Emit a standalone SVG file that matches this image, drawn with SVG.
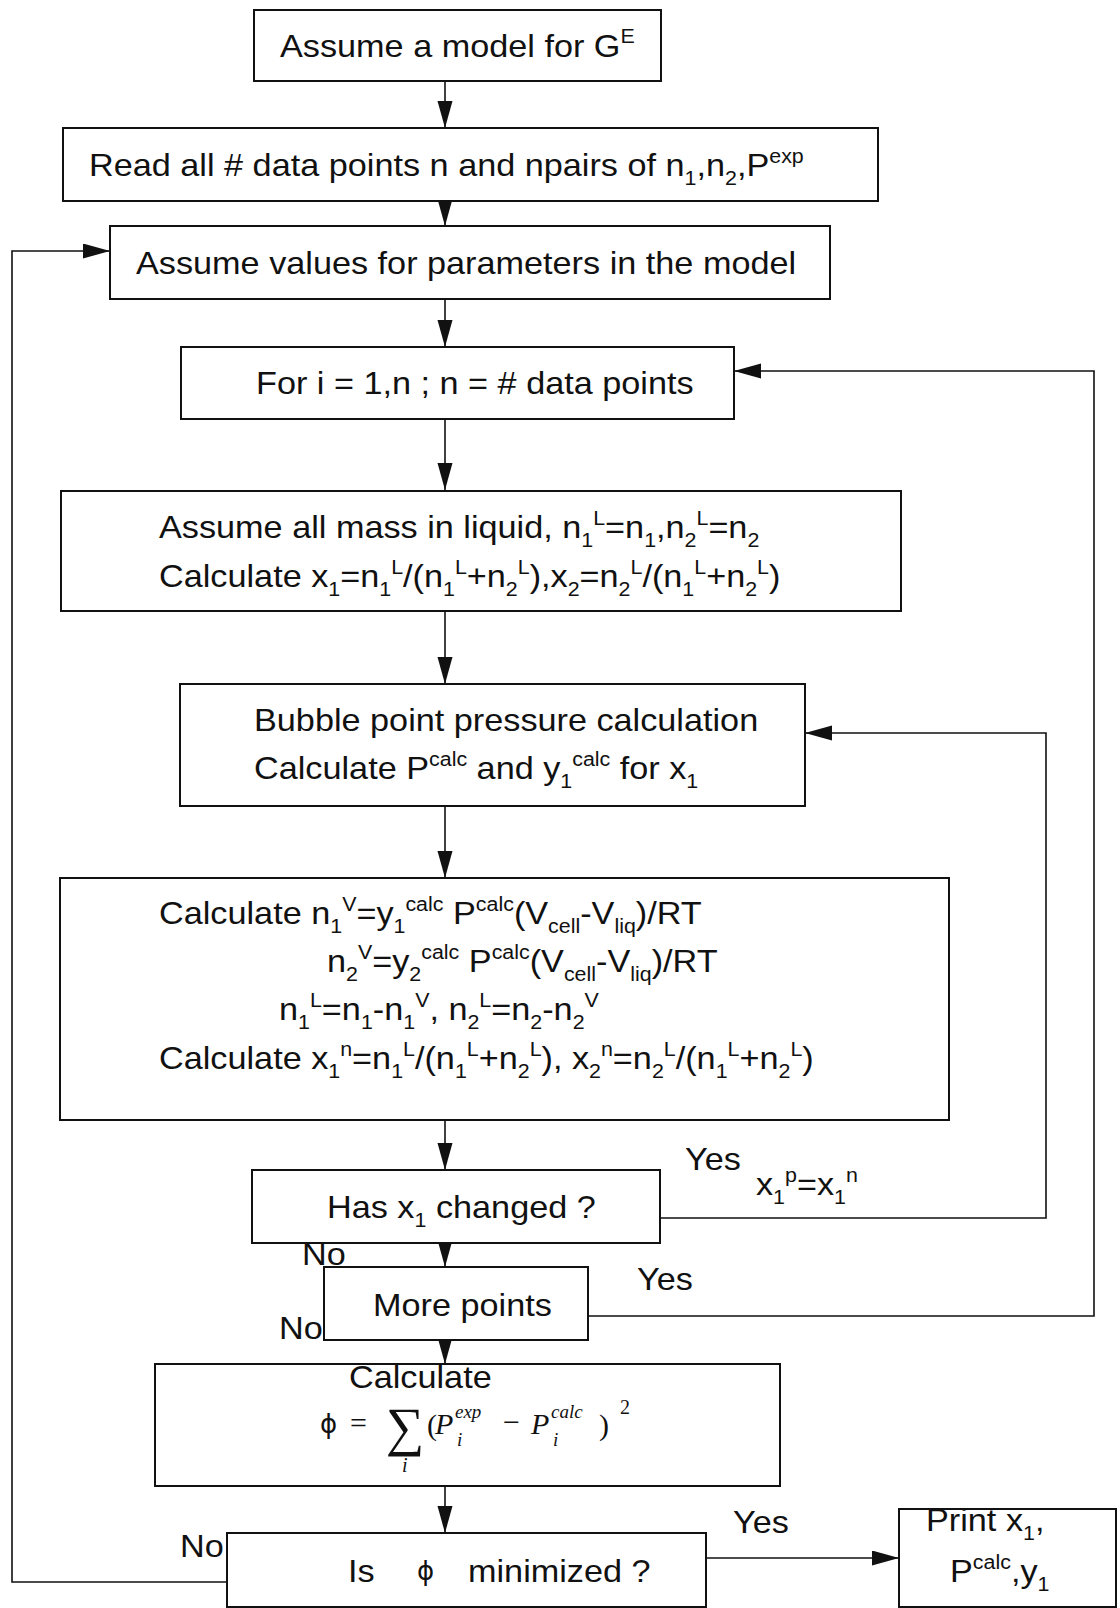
<svg xmlns="http://www.w3.org/2000/svg" width="1120" height="1608" viewBox="0 0 1120 1608">
<style>
.box{fill:#fff;stroke:#111;stroke-width:2}
.ln{fill:none;stroke:#111;stroke-width:1.6}
text{font-family:"Liberation Sans",Arial,sans-serif;font-size:32px;fill:#111}
.s{font-size:20px}
.m{font-family:"Liberation Serif","Times New Roman",serif;font-style:italic}
.r{font-family:"Liberation Serif","Times New Roman",serif}
</style>
<defs>
<marker id="ah" markerUnits="userSpaceOnUse" markerWidth="28" markerHeight="16" refX="27" refY="7.5" orient="auto">
<path d="M0,0 L27,7.5 L0,15 z" fill="#111"/>
</marker>
</defs>
<rect width="1120" height="1608" fill="#fff"/>
<g id="connectors">
<path class="ln" d="M445,81 L445,128" marker-end="url(#ah)"/>
<path class="ln" d="M445,201 L445,226" marker-end="url(#ah)"/>
<path class="ln" d="M445,299 L445,347" marker-end="url(#ah)"/>
<path class="ln" d="M445,419 L445,490" marker-end="url(#ah)"/>
<path class="ln" d="M445,611 L445,684" marker-end="url(#ah)"/>
<path class="ln" d="M445,806 L445,878" marker-end="url(#ah)"/>
<path class="ln" d="M445,1120 L445,1170" marker-end="url(#ah)"/>
<path class="ln" d="M445,1243 L445,1267" marker-end="url(#ah)"/>
<path class="ln" d="M445,1340 L445,1364" marker-end="url(#ah)"/>
<path class="ln" d="M445,1486 L445,1533" marker-end="url(#ah)"/>
<path class="ln" d="M706,1558 L899,1558" marker-end="url(#ah)"/>
<path class="ln" d="M660,1218 L1046,1218 L1046,733 L805,733" marker-end="url(#ah)"/>
<path class="ln" d="M588,1316 L1094,1316 L1094,371 L734,371" marker-end="url(#ah)"/>
<path class="ln" d="M227,1582 L12,1582 L12,251 L110,251" marker-end="url(#ah)"/>
</g>
<g id="n1">
<rect class="box" x="254" y="10" width="407" height="71"/>
<text transform="translate(280,57) scale(1.07,1)">Assume a model for G<tspan class="s" dy="-14">E</tspan></text>
</g>
<g id="n2">
<rect class="box" x="63" y="128" width="815" height="73"/>
<text transform="translate(89,176) scale(1.07,1)">Read all # data points n and npairs of n<tspan class="s" dy="9">1</tspan><tspan dy="-9">,n</tspan><tspan class="s" dy="9">2</tspan><tspan dy="-9">,P</tspan><tspan class="s" dy="-13">exp</tspan></text>
</g>
<g id="n3">
<rect class="box" x="110" y="226" width="720" height="73"/>
<text transform="translate(136,274) scale(1.07,1)">Assume values for parameters in the model</text>
</g>
<g id="n4">
<rect class="box" x="181" y="347" width="553" height="72"/>
<text transform="translate(256,394) scale(1.07,1)">For i = 1,n ; n = # data points</text>
</g>
<g id="n5">
<rect class="box" x="61" y="491" width="840" height="120"/>
<text transform="translate(159,538) scale(1.07,1)">Assume all mass in liquid, n<tspan class="s" dy="9">1</tspan><tspan class="s" dy="-22">L</tspan><tspan dy="13">=n</tspan><tspan class="s" dy="9">1</tspan><tspan dy="-9">,n</tspan><tspan class="s" dy="9">2</tspan><tspan class="s" dy="-22">L</tspan><tspan dy="13">=n</tspan><tspan class="s" dy="9">2</tspan></text>
<text transform="translate(159,587) scale(1.07,1)">Calculate x<tspan class="s" dy="9">1</tspan><tspan dy="-9">=n</tspan><tspan class="s" dy="9">1</tspan><tspan class="s" dy="-22">L</tspan><tspan dy="13">/(n</tspan><tspan class="s" dy="9">1</tspan><tspan class="s" dy="-22">L</tspan><tspan dy="13">+n</tspan><tspan class="s" dy="9">2</tspan><tspan class="s" dy="-22">L</tspan><tspan dy="13">),x</tspan><tspan class="s" dy="9">2</tspan><tspan dy="-9">=n</tspan><tspan class="s" dy="9">2</tspan><tspan class="s" dy="-22">L</tspan><tspan dy="13">/(n</tspan><tspan class="s" dy="9">1</tspan><tspan class="s" dy="-22">L</tspan><tspan dy="13">+n</tspan><tspan class="s" dy="9">2</tspan><tspan class="s" dy="-22">L</tspan><tspan dy="13">)</tspan></text>
</g>
<g id="n6">
<rect class="box" x="180" y="684" width="625" height="122"/>
<text transform="translate(254,731) scale(1.07,1)">Bubble point pressure calculation</text>
<text transform="translate(254,779) scale(1.07,1)">Calculate P<tspan class="s" dy="-13">calc</tspan><tspan dy="13"> and y</tspan><tspan class="s" dy="9">1</tspan><tspan class="s" dy="-22">calc</tspan><tspan dy="13"> for x</tspan><tspan class="s" dy="9">1</tspan></text>
</g>
<g id="n7">
<rect class="box" x="60" y="878" width="889" height="242"/>
<text transform="translate(159,924) scale(1.07,1)">Calculate n<tspan class="s" dy="9">1</tspan><tspan class="s" dy="-22">V</tspan><tspan dy="13">=y</tspan><tspan class="s" dy="9">1</tspan><tspan class="s" dy="-22">calc</tspan><tspan dy="13"> P</tspan><tspan class="s" dy="-13">calc</tspan><tspan dy="13">(V</tspan><tspan class="s" dy="9">cell</tspan><tspan dy="-9">-V</tspan><tspan class="s" dy="9">liq</tspan><tspan dy="-9">)/RT</tspan></text>
<text transform="translate(327,972) scale(1.07,1)">n<tspan class="s" dy="9">2</tspan><tspan class="s" dy="-22">V</tspan><tspan dy="13">=y</tspan><tspan class="s" dy="9">2</tspan><tspan class="s" dy="-22">calc</tspan><tspan dy="13"> P</tspan><tspan class="s" dy="-13">calc</tspan><tspan dy="13">(V</tspan><tspan class="s" dy="9">cell</tspan><tspan dy="-9">-V</tspan><tspan class="s" dy="9">liq</tspan><tspan dy="-9">)/RT</tspan></text>
<text transform="translate(279,1020) scale(1.07,1)">n<tspan class="s" dy="9">1</tspan><tspan class="s" dy="-22">L</tspan><tspan dy="13">=n</tspan><tspan class="s" dy="9">1</tspan><tspan dy="-9">-n</tspan><tspan class="s" dy="9">1</tspan><tspan class="s" dy="-22">V</tspan><tspan dy="13">, n</tspan><tspan class="s" dy="9">2</tspan><tspan class="s" dy="-22">L</tspan><tspan dy="13">=n</tspan><tspan class="s" dy="9">2</tspan><tspan dy="-9">-n</tspan><tspan class="s" dy="9">2</tspan><tspan class="s" dy="-22">V</tspan></text>
<text transform="translate(159,1069) scale(1.07,1)">Calculate x<tspan class="s" dy="9">1</tspan><tspan class="s" dy="-22">n</tspan><tspan dy="13">=n</tspan><tspan class="s" dy="9">1</tspan><tspan class="s" dy="-22">L</tspan><tspan dy="13">/(n</tspan><tspan class="s" dy="9">1</tspan><tspan class="s" dy="-22">L</tspan><tspan dy="13">+n</tspan><tspan class="s" dy="9">2</tspan><tspan class="s" dy="-22">L</tspan><tspan dy="13">), x</tspan><tspan class="s" dy="9">2</tspan><tspan class="s" dy="-22">n</tspan><tspan dy="13">=n</tspan><tspan class="s" dy="9">2</tspan><tspan class="s" dy="-22">L</tspan><tspan dy="13">/(n</tspan><tspan class="s" dy="9">1</tspan><tspan class="s" dy="-22">L</tspan><tspan dy="13">+n</tspan><tspan class="s" dy="9">2</tspan><tspan class="s" dy="-22">L</tspan><tspan dy="13">)</tspan></text>
</g>
<g id="n8">
<rect class="box" x="252" y="1170" width="408" height="73"/>
<text transform="translate(327,1218) scale(1.07,1)">Has x<tspan class="s" dy="9">1</tspan><tspan dy="-9"> changed ?</tspan></text>
</g>
<g id="n9">
<rect class="box" x="324" y="1267" width="264" height="73"/>
<text transform="translate(373,1316) scale(1.07,1)">More points</text>
</g>
<g id="n10">
<rect class="box" x="155" y="1364" width="625" height="122"/>
<text transform="translate(349,1388) scale(1.07,1)">Calculate</text>
<text x="320" y="1433" style="font-family:'DejaVu Sans','Liberation Sans',sans-serif;font-size:26px">ϕ</text>
<text x="350" y="1433" class="r" style="font-size:30px">=</text>
<text x="386" y="1445" class="r" style="font-size:54px">∑</text>
<text x="402" y="1472" class="m" style="font-size:20px">i</text>
<text x="427" y="1435" class="r" style="font-size:30px">(</text>
<text x="435" y="1434" class="m" style="font-size:30px">P</text>
<text x="455" y="1418" class="m" style="font-size:19px">exp</text>
<text x="457" y="1446" class="m" style="font-size:19px">i</text>
<text x="503" y="1432" class="r" style="font-size:30px">−</text>
<text x="531" y="1434" class="m" style="font-size:30px">P</text>
<text x="551" y="1418" class="m" style="font-size:19px">calc</text>
<text x="553" y="1446" class="m" style="font-size:19px">i</text>
<text x="599" y="1435" class="r" style="font-size:30px">)</text>
<text x="620" y="1414" class="r" style="font-size:20px">2</text>
</g>
<g id="n11">
<rect class="box" x="227" y="1533" width="479" height="74"/>
<text transform="translate(348,1582) scale(1.07,1)">Is</text>
<text x="417" y="1580" style="font-family:'DejaVu Sans','Liberation Sans',sans-serif;font-size:26px">ϕ</text>
<text transform="translate(468,1582) scale(1.07,1)">minimized ?</text>
</g>
<g id="n12">
<rect class="box" x="899" y="1509" width="217" height="98"/>
<text transform="translate(926,1531) scale(1.07,1)">Print x<tspan class="s" dy="9">1</tspan><tspan dy="-9">,</tspan></text>
<text transform="translate(950,1582) scale(1.07,1)">P<tspan class="s" dy="-13">calc</tspan><tspan dy="13">,y</tspan><tspan class="s" dy="9">1</tspan></text>
</g>
<g id="labels">
<text transform="translate(685,1170) scale(1.07,1)">Yes</text>
<text transform="translate(756,1195) scale(1.07,1)">x<tspan class="s" dy="9">1</tspan><tspan class="s" dy="-22">p</tspan><tspan dy="13">=x</tspan><tspan class="s" dy="9">1</tspan><tspan class="s" dy="-22">n</tspan></text>
<text transform="translate(302,1265) scale(1.07,1)">No</text>
<text transform="translate(637,1290) scale(1.07,1)">Yes</text>
<text transform="translate(279,1339) scale(1.07,1)">No</text>
<text transform="translate(180,1557) scale(1.07,1)">No</text>
<text transform="translate(733,1533) scale(1.07,1)">Yes</text>
</g>
</svg>
